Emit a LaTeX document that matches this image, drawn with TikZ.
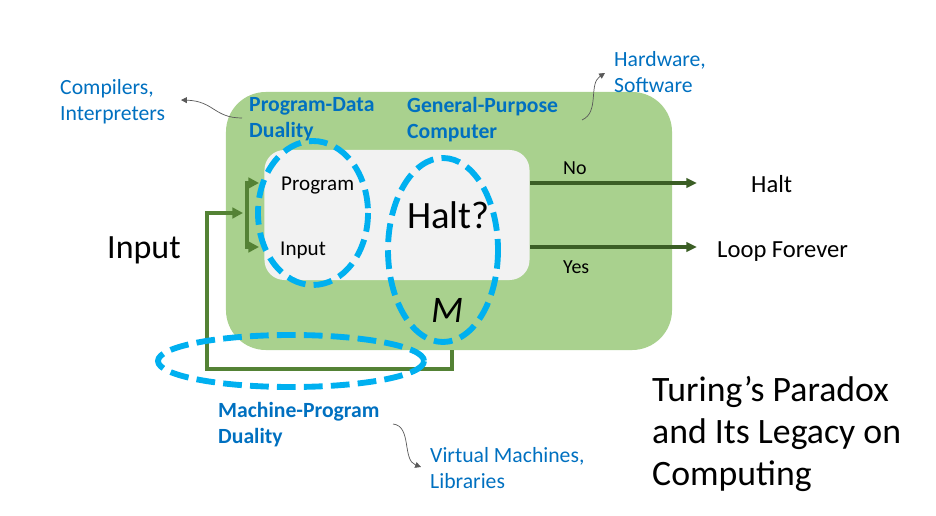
\documentclass[tikz,border=0pt]{standalone}
\usepackage{fontspec}
\setmainfont{Carlito}
\usetikzlibrary{arrows.meta}
\definecolor{verdeclaro}{HTML}{A9D18E}
\definecolor{grisclaro}{HTML}{F2F2F2}
\definecolor{verdeoscuro}{HTML}{548235}
\definecolor{verdeflecha}{HTML}{3B5E25}
\definecolor{celeste}{HTML}{00B0F0}
\definecolor{azulmarca}{HTML}{0070C0}
\definecolor{grisflecha}{HTML}{595959}
\begin{document}
\begin{tikzpicture}[x=0.03cm,y=-0.03cm,
    cajaverde/.style={fill=verdeclaro,rounded corners=34pt,minimum width=13.38cm,minimum height=7.74cm,inner sep=0pt},
    cajagris/.style={fill=grisclaro,rounded corners=17pt,minimum width=7.95cm,minimum height=3.9cm,inner sep=0pt},
    elipse/.style={draw=celeste,line width=5pt,dash pattern=on 16pt off 7pt},
    retro/.style={draw=verdeoscuro,line width=3.4pt},
    salida/.style={draw=verdeflecha,line width=2.6pt,-{Triangle[length=9pt,width=8pt]}},
    nota/.style={draw=grisflecha,line width=0.6pt,-{Triangle[length=5pt,width=5pt]}},
    azul/.style={text=azulmarca,font=\fontsize{18.5}{22}\selectfont,align=left,anchor=north west,inner sep=0pt},
    azulb/.style={azul,font=\fontsize{18.5}{22}\selectfont\bfseries},
    texto/.style={anchor=base west,inner sep=0pt}]
    \useasboundingbox (0,0) rectangle (936,516);

    % Cajas
    \node[cajaverde] (computadora) at (449,221) {};
    \node[cajagris] (maquina) at (397,215) {};

    % Retroalimentacion
    \coordinate (fondo) at (452,350);
    \coordinate (entrada) at (243,213);
    \draw[retro,-{Triangle[length=9pt,width=9pt]}] (fondo) -- (452,369) -| (207,213) -- (entrada);
    \coordinate (arriba) at (259,183);
    \coordinate (abajo) at (259,247);
    \draw[retro,{Triangle[length=9pt,width=9pt]}-{Triangle[length=9pt,width=9pt]}]
        (arriba) -- (247,183) -- (247,247) -- (abajo);

    % Salidas
    \node[texto,font=\fontsize{21}{25}\selectfont] (halt) at (751,193) {Halt};
    \node[texto,font=\fontsize{21}{25}\selectfont] (loop) at (717,257) {Loop Forever};
    \draw[salida] (530,183) -- (697,183);
    \draw[salida] (530,247) -- (697,247);
    \node[texto,font=\fontsize{17}{20}\selectfont] (no) at (563,175) {No};
    \node[texto,font=\fontsize{17}{20}\selectfont] (si) at (563,273) {Yes};

    % Textos negros
    \node[texto,font=\fontsize{29}{33}\selectfont] (input) at (107,258) {Input};
    \node[texto,font=\fontsize{18}{21}\selectfont] (prog) at (281,191) {Program};
    \node[texto,font=\fontsize{18}{21}\selectfont] (inp) at (280,255) {Input};
    \node[texto,font=\fontsize{33}{38}\selectfont] (pregunta) at (407,229) {Halt?};
    \node[texto,font=\fontsize{32}{36}\selectfont\itshape] (m) at (431,322) {M};

    % Elipses
    \draw[elipse] (313,213) ellipse [x radius=55, y radius=72];
    \draw[elipse] (443,250) ellipse [x radius=55, y radius=92];
    \draw[elipse] (291,361) ellipse [x radius=133, y radius=26];

    % Etiquetas azules
    \node[azulb] (pdd) at (249,97) {Program-Data\\Duality};
    \node[azulb] (gpc) at (407,97) {General-Purpose\\Computer};
    \node[azulb] (mpd) at (218,402) {Machine-Program\\Duality};
    \node[azul] (hw) at (614,51) {Hardware,\\Software};
    \node[azul] (comp) at (60,79) {Compilers,\\Interpreters};
    \node[azul] (vm) at (430,447) {Virtual Machines,\\Libraries};

    % Notas
    \coordinate (n1) at (242,118);
    \coordinate (n2) at (181,100);
    \draw[nota] (n1) .. controls (214,118) and (214,101) .. (n2);
    \coordinate (n3) at (582,120);
    \coordinate (n4) at (605,73);
    \draw[nota] (n3) .. controls (600,112) and (588,84) .. (n4);
    \coordinate (n5) at (393,424);
    \coordinate (n6) at (421,467);
    \draw[nota] (n5) .. controls (412,426) and (402,460) .. (n6);

    % Titulo
    \node[anchor=north west,inner sep=0pt,align=left,font=\fontsize{30.5}{35.7}\selectfont] (titulo) at (652,376)
        {Turing’s Paradox\\and Its Legacy on\\Computing};
\end{tikzpicture}
\end{document}
